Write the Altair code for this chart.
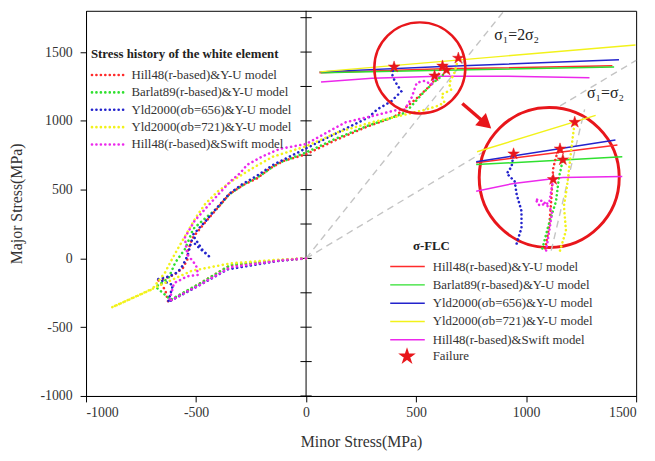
import altair as alt
import pandas as pd

FONT = "Liberation Serif"
RED = "#e8161b"

models = ["Hill48(r-based)&Y-U model", "Barlat89(r-based)&Y-U model",
          "Yld2000(σb=656)&Y-U model", "Yld2000(σb=721)&Y-U model",
          "Hill48(r-based)&Swift model"]
colors = ["#ff2b2b", "#2fe02f", "#2323cc", "#f2f21a", "#ec28ec"]

# ---- stress histories of the white element (minor, major stress, MPa) ----
hill_x = [0, -120, -350, -480, -627, -640, -670, -600, -560, -540, -537, -515, -460, -403,
          -349, -290, -224, -165, -100, 0, 134, 281, 402, 440, 500, 560, 600, 620]
hill_y = [0, -15, -55, -180, -315, -230, -160, -120, -70, -10, 57, 151, 260, 366,
          466, 530, 581, 653, 710, 757, 860, 960, 1030, 1080, 1160, 1250, 1330, 1399]
barlat_x = [0, -110, -340, -470, -615, -683, -625, -594, -549, -513, -460, -403, -349,
            -280, -210, -130, 0, 134, 281, 402, 450, 480, 530, 580, 620, 638]
barlat_y = [0, -12, -45, -170, -300, -207, -143, -29, 71, 214, 290, 366, 466,
            540, 600, 690, 770, 870, 965, 1030, 1060, 1110, 1200, 1280, 1330, 1370]
yld656_x = [0, -125, -357, -490, -627, -614, -605, -672, -620, -583, -560, -538, -520,
            -483, -456, -434, -470, -515, -460, -403, -349, -290, -224, -150, 0, 150, 285, 323,
            388, 433, 402, 390, 400]
yld656_y = [0, -18, -80, -200, -318, -244, -194, -150, -130, -100, -50, 22, 130,
            72, 36, 5, 60, 170, 265, 372, 470, 540, 600, 680, 800, 920, 1026, 1083,
            1143, 1214, 1293, 1343, 1392]
yld721_x = [0, -130, -344, -520, -884, -700, -640, -612, -580, -536, -500, -460, -402, -330, -250,
            -150, 0, 150, 300, 436, 540, 600, 629, 615, 660, 650, 674, 692]
yld721_y = [0, -10, -36, -90, -357, -225, -100, -14, 79, 200, 300, 393, 486, 570, 650,
            740, 815, 920, 990, 1040, 1080, 1110, 1133, 1191, 1227, 1270, 1349, 1456]
swift_x = [0, -115, -345, -480, -622, -600, -540, -490, -500, -540, -551, -507, -447,
           -390, -344, -300, -268, -200, -120, 0, 180, 315, 400, 449, 480, 495, 503, 539, 570, 575, 584]
swift_y = [0, -14, -65, -190, -312, -180, -130, -120, -50, 30, 151, 273, 380,
           480, 560, 620, 680, 740, 796, 832, 990, 1040, 1075, 1083, 1170, 1240, 1277, 1291, 1263, 1290, 1327]

# ---- sigma-FLC curves ----
flc_hill_x = [61, 620, 1392]
flc_hill_y = [1349, 1378, 1400]
flc_barlat_x = [68, 620, 1400]
flc_barlat_y = [1349, 1368, 1392]
flc_yld656_x = [61, 620, 1422]
flc_yld656_y = [1356, 1395, 1444]
flc_yld721_x = [61, 1497]
flc_yld721_y = [1356, 1552]
flc_swift_x = [68, 300, 600, 900, 1288]
flc_swift_y = [1282, 1310, 1325, 1325, 1313]

# failure points (order of models)
fail_x = [620, 638, 400, 692, 584]
fail_y = [1399, 1370, 1392, 1456, 1327]

# ---- magnified view (drawn inside the large circle) ----
in_hill_x = [1087, 1105, 1114, 1123, 1136, 1154]
in_hill_y = [72, 237, 416, 653, 739, 796]
in_barlat_x = [1074, 1101, 1136, 1150, 1167]
in_barlat_y = [72, 237, 416, 595, 717]
in_yld656_x = [957, 979, 979, 957, 948, 912, 934, 943]
in_yld656_y = [108, 222, 344, 466, 560, 617, 667, 760]
in_yld721_x = [1154, 1181, 1172, 1186, 1199, 1212, 1221]
in_yld721_y = [57, 201, 380, 524, 703, 882, 990]
in_swift_x = [1091, 1109, 1118, 1078, 1042, 1060, 1105, 1123]
in_swift_y = [57, 237, 344, 416, 430, 387, 402, 574]

in_flc_hill_x = [773, 1415]
in_flc_hill_y = [696, 825]
in_flc_barlat_x = [773, 1437]
in_flc_barlat_y = [682, 739]
in_flc_yld656_x = [773, 1406]
in_flc_yld656_y = [703, 861]
in_flc_yld721_x = [777, 1316]
in_flc_yld721_y = [775, 1040]
in_flc_swift_x = [773, 943, 1167, 1437]
in_flc_swift_y = [488, 545, 588, 595]

in_fail_x = [1154, 1167, 943, 1221, 1123]
in_fail_y = [796, 717, 760, 990, 574]

# reference strain-path lines
ref_names = ["σ1=2σ2", "σ1=σ2"]
ref_x = [[0, 900], [0, 1500]]
ref_y = [[0, 1800], [0, 1440]]
in_ref_x = [1114, 1266]
in_ref_y = [57, 1083]

# annotation circles and arrow
small_circle = (517, 1385)
big_circle = (1105, 588)
arrow_from = (710, 1126)
arrow_to = (809, 990)

mid_ticks = list(range(-1000, 1751, 250))
axis_vals_x = [-1000, -500, 0, 500, 1000, 1500]
axis_vals_y = [-1000, -500, 0, 500, 1000, 1500]

STAR = ("M0,-1L0.2245,-0.309L0.9511,-0.309L0.3633,0.118L0.5878,0.809L0,0.382"
        "L-0.5878,0.809L-0.3633,0.118L-0.9511,-0.309L-0.2245,-0.309Z")


def series_df(xlists, ylists):
    frames = []
    for m, xs_, ys_ in zip(models, xlists, ylists):
        frames.append(pd.DataFrame({"model": m, "x": xs_, "y": ys_, "i": range(len(xs_))}))
    return pd.concat(frames, ignore_index=True)


hist = series_df([hill_x, barlat_x, yld656_x, yld721_x, swift_x],
                 [hill_y, barlat_y, yld656_y, yld721_y, swift_y])
flc = series_df([flc_hill_x, flc_barlat_x, flc_yld656_x, flc_yld721_x, flc_swift_x],
                [flc_hill_y, flc_barlat_y, flc_yld656_y, flc_yld721_y, flc_swift_y])
in_hist = series_df([in_hill_x, in_barlat_x, in_yld656_x, in_yld721_x, in_swift_x],
                    [in_hill_y, in_barlat_y, in_yld656_y, in_yld721_y, in_swift_y])
in_flc = series_df([in_flc_hill_x, in_flc_barlat_x, in_flc_yld656_x, in_flc_yld721_x, in_flc_swift_x],
                   [in_flc_hill_y, in_flc_barlat_y, in_flc_yld656_y, in_flc_yld721_y, in_flc_swift_y])
fails = pd.DataFrame({"model": models, "x": fail_x, "y": fail_y})
in_fails = pd.DataFrame({"model": models, "x": in_fail_x, "y": in_fail_y})
refs = pd.DataFrame({"ref": [n for n in ref_names for _ in range(2)],
                     "x": [v for xs_ in ref_x for v in xs_],
                     "y": [v for ys_ in ref_y for v in ys_]})
in_refs = pd.DataFrame({"ref": "in", "x": in_ref_x, "y": in_ref_y})

LABEL_EXPR = "datum.value < 0 ? '-' + abs(datum.value) : '' + datum.value"
xs = alt.Scale(domain=[-1000, 1500], nice=False, zero=False)
ys = alt.Scale(domain=[-1000, 1800], nice=False, zero=False)
xaxis = alt.Axis(values=axis_vals_x, labelExpr=LABEL_EXPR, grid=False, tickSize=6, labelPadding=4,
                 titlePadding=14, labelFontSize=14, titleFontSize=16)
yaxis = alt.Axis(values=axis_vals_y, labelExpr=LABEL_EXPR, grid=False, tickSize=6, labelPadding=8,
                 titlePadding=16, labelFontSize=14, titleFontSize=16)


def X(f):
    return alt.X(f, type="quantitative", scale=xs, axis=xaxis, title="Minor Stress(MPa)")


def Y(f):
    return alt.Y(f, type="quantitative", scale=ys, axis=yaxis, title="Major Stress(MPa)")


color_enc = alt.Color("model:N", scale=alt.Scale(domain=models, range=colors), legend=None)

layers = []
# middle axis at minor stress = 0
layers.append(alt.Chart(pd.DataFrame({"x": [0]})).mark_rule(color="black", strokeWidth=1)
              .encode(x=X("x")))
layers.append(alt.Chart(pd.DataFrame({"x": 0, "y": mid_ticks}))
              .mark_point(shape="stroke", size=130, color="black", strokeWidth=1, opacity=1)
              .encode(x=X("x"), y=Y("y")))
# reference dashed lines
layers.append(alt.Chart(refs).mark_line(strokeDash=[7, 5], color="#c4c4c4", strokeWidth=1.4)
              .encode(x=X("x"), y=Y("y"), detail="ref:N"))
# FLC curves
layers.append(alt.Chart(flc).mark_line(strokeWidth=1.5)
              .encode(x=X("x"), y=Y("y"), color=color_enc, order="i:Q"))
# stress histories (dotted)
layers.append(alt.Chart(hist).mark_line(strokeDash=[0.1, 4.6], strokeCap="round", strokeWidth=2.6)
              .encode(x=X("x"), y=Y("y"), color=color_enc, order="i:Q"))
# failure stars
layers.append(alt.Chart(fails).mark_point(shape=STAR, size=150, filled=True, fill=RED, stroke=RED,
                                          strokeWidth=0.5, opacity=1)
              .encode(x=X("x"), y=Y("y")))
# small circle
layers.append(alt.Chart(pd.DataFrame({"x": [small_circle[0]], "y": [small_circle[1]]}))
              .mark_point(shape="circle", size=8495, filled=False, stroke=RED, strokeWidth=2.5, opacity=1)
              .encode(x=X("x"), y=Y("y")))
# arrow
arrow = pd.DataFrame({"x": [arrow_from[0]], "y": [arrow_from[1]],
                      "x2": [arrow_to[0]], "y2": [arrow_to[1]]})
layers.append(alt.Chart(arrow).mark_rule(color=RED, strokeWidth=3.5)
              .encode(x=X("x"), y=Y("y"), x2="x2:Q", y2="y2:Q"))
layers.append(alt.Chart(pd.DataFrame({"x": [arrow_to[0]], "y": [arrow_to[1]]}))
              .mark_point(shape="triangle", angle=131, size=170, filled=True, fill=RED, stroke=RED, opacity=1)
              .encode(x=X("x"), y=Y("y")))
# big circle (magnified view)
layers.append(alt.Chart(pd.DataFrame({"x": [big_circle[0]], "y": [big_circle[1]]}))
              .mark_point(shape="circle", size=20106, filled=True, fill="white", stroke=RED,
                          strokeWidth=3, opacity=1, fillOpacity=1)
              .encode(x=X("x"), y=Y("y")))
layers.append(alt.Chart(in_refs).mark_line(strokeDash=[7, 5], color="#c4c4c4", strokeWidth=1.4)
              .encode(x=X("x"), y=Y("y"), order="y:Q"))
layers.append(alt.Chart(in_flc).mark_line(strokeWidth=1.5)
              .encode(x=X("x"), y=Y("y"), color=color_enc, order="i:Q"))
layers.append(alt.Chart(in_hist).mark_line(strokeDash=[0.1, 4.2], strokeCap="round", strokeWidth=2.6)
              .encode(x=X("x"), y=Y("y"), color=color_enc, order="i:Q"))
layers.append(alt.Chart(in_fails).mark_point(shape=STAR, size=150, filled=True, fill=RED, stroke=RED,
                                             strokeWidth=0.5, opacity=1)
              .encode(x=X("x"), y=Y("y")))

# ---- hand-made legends ----
H = 390.0
leg = pd.DataFrame({"model": models, "i": range(len(models))})
conv = "1800 - ({}) * 2800 / " + str(H)
leg1 = alt.Chart(leg).transform_calculate(yd=conv.format("65 + datum.i * 17.6"))
layers.append(leg1.mark_rule(strokeDash=[0.1, 4.4], strokeCap="round", strokeWidth=2.6)
              .encode(x=alt.value(6), x2=alt.value(38), y=Y("yd"), color=color_enc))
layers.append(leg1.mark_text(align="left", baseline="middle", font=FONT, fontSize=13, color="#333")
              .encode(x=alt.value(46), y=Y("yd"), text="model:N"))
leg2 = alt.Chart(leg).transform_calculate(yd=conv.format("259 + datum.i * 18.5"))
layers.append(leg2.mark_rule(strokeWidth=1.5)
              .encode(x=alt.value(308), x2=alt.value(343), y=Y("yd"), color=color_enc))
layers.append(leg2.mark_text(align="left", baseline="middle", font=FONT, fontSize=13, color="#333")
              .encode(x=alt.value(351), y=Y("yd"), text="model:N"))
failleg = alt.Chart(pd.DataFrame({"t": ["Failure"]})).transform_calculate(yd=conv.format("350"))
layers.append(failleg.mark_point(shape=STAR, size=150, filled=True, fill=RED, stroke=RED, opacity=1)
              .encode(x=alt.value(325), y=Y("yd")))
layers.append(failleg.mark_text(align="left", baseline="middle", font=FONT, fontSize=13, color="#333")
              .encode(x=alt.value(351), y=Y("yd"), text="t:N"))


def label(txt, px, py, size, weight="normal", align="left"):
    return (alt.Chart(pd.DataFrame({"t": [txt]}))
            .mark_text(align=align, baseline="middle", font=FONT, fontSize=size,
                       fontWeight=weight, color="#222")
            .encode(x=alt.value(px), y=alt.value(py), text="t:N"))


layers.append(label("Stress history of the white element", 5, 44, 13, "bold"))
layers.append(label("σ-FLC", 331, 238, 13, "bold"))
layers.append(label("σ₁=2σ₂", 436, 25, 16, align="center"))
layers.append(label("σ₁=σ₂", 526, 83, 16, align="center"))

chart = (alt.layer(*layers)
         .properties(width=557, height=390,
                     autosize=alt.AutoSizeParams(type="none"),
                     padding={"left": 79, "top": 0, "right": 11, "bottom": 63})
         .configure_view(stroke="black", strokeWidth=1)
         .configure_axis(domainColor="black", tickColor="black", labelColor="#333",
                         titleColor="#333", labelFont=FONT, titleFont=FONT,
                         titleFontWeight="normal"))

chart.save("out.html", embed_options={"renderer": "svg", "actions": False})
